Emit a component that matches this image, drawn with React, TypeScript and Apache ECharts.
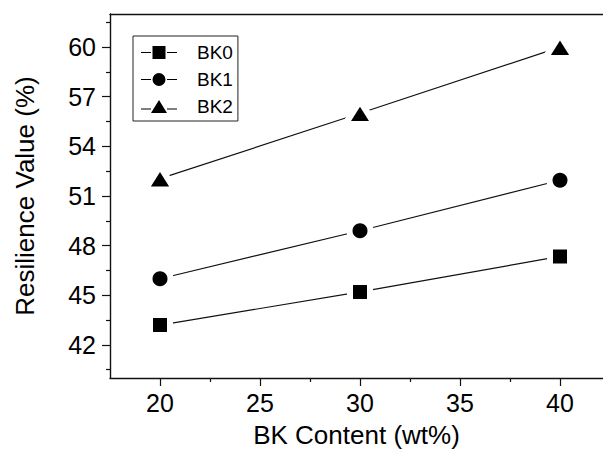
import React, { useEffect, useRef } from "react";
import * as echarts from "echarts";

const xCategories = [20, 30, 40];
const bk0 = [43.2, 45.2, 47.35];
const bk1 = [46.0, 48.9, 51.95];
const bk2 = [52.05, 56.0, 60.0];
const seriesNames = ["BK0", "BK1", "BK2"];
const xTickLabels = [20, 25, 30, 35, 40];
const xMinorTicks = [22.5, 27.5, 32.5, 37.5];
const yTickLabels = [42, 45, 48, 51, 54, 57, 60];
const yMinorTicks = [40.5, 43.5, 46.5, 49.5, 52.5, 55.5, 58.5, 61.5];

const FONT = "Liberation Sans";
const INK = "#111";

const legendIcons: Record<string, string> = {
  BK0: "path://M0,5.9h10v1.2h-10z M11.5,0h13v13h-13z M26,5.9h10v1.2h-10z",
  BK1: "path://M0,5.9h10v1.2h-10z M11.5,6.5a6.5,6.5 0 1,0 13,0a6.5,6.5 0 1,0 -13,0z M26,5.9h10v1.2h-10z",
  BK2: "path://M0,8.4h10v1.2h-10z M18,0L26,13L10,13z M26,8.4h10v1.2h-10z",
};

export default function App() {
  const ref = useRef<HTMLDivElement>(null);
  useEffect(() => {
    if (!ref.current) return;
    const chart = echarts.init(ref.current, undefined, { renderer: "svg" });
    const mk = (vals: number[]) => xCategories.map((x, i) => [x, vals[i]]);
    const common = {
      type: "line" as const,
      xAxisIndex: 0,
      yAxisIndex: 0,
      itemStyle: { color: "#000", borderColor: "#fff", borderWidth: 6 },
      lineStyle: { color: INK, width: 1.2 },
      z: 3,
    };
    const xRange = { min: 17.5, max: 42.15 };
    chart.setOption({
      animation: false,
      backgroundColor: "#fff",
      textStyle: { fontFamily: FONT },
      grid: { left: 110, top: 14, right: 0, bottom: 73, show: false },
      legend: {
        orient: "vertical",
        left: 133,
        top: 36,
        padding: [7, 5, 5, 8],
        itemWidth: 36,
        itemHeight: 13,
        itemGap: 8,
        borderColor: "#222",
        borderWidth: 1,
        textStyle: { fontFamily: FONT, fontSize: 19, color: "#000", padding: [0, 0, 0, 15] },
        data: seriesNames.map((n) => ({
          name: n,
          icon: legendIcons[n],
          itemStyle: { color: "#000", borderWidth: 0 },
        })),
      },
      xAxis: [
        {
          type: "value",
          ...xRange,
          position: "bottom",
          name: "BK Content (wt%)",
          nameLocation: "middle",
          nameGap: 44,
          nameTextStyle: { fontFamily: FONT, fontSize: 26, color: "#000" },
          axisLine: { show: true, lineStyle: { color: INK, width: 1.4 } },
          axisTick: { show: true, length: 8, customValues: xTickLabels, lineStyle: { color: INK, width: 1.2 } },
          axisLabel: { customValues: xTickLabels, fontFamily: FONT, fontSize: 25, color: "#000", margin: 12 },
          splitLine: { show: false },
        },
        {
          type: "value",
          ...xRange,
          position: "bottom",
          axisLine: { show: false },
          axisTick: { show: true, length: 4, customValues: xMinorTicks, lineStyle: { color: INK, width: 1.2 } },
          axisLabel: { show: false },
          splitLine: { show: false },
        },
        {
          type: "value",
          ...xRange,
          position: "top",
          axisLine: { show: true, lineStyle: { color: INK, width: 1.4 } },
          axisTick: { show: false },
          axisLabel: { show: false },
          splitLine: { show: false },
        },
      ],
      yAxis: [
        {
          type: "value",
          min: 40,
          max: 62,
          position: "left",
          name: "Resilience Value (%)",
          nameLocation: "middle",
          nameGap: 72,
          nameTextStyle: { fontFamily: FONT, fontSize: 26, color: "#000" },
          axisLine: { show: true, lineStyle: { color: INK, width: 1.4 } },
          axisTick: { show: true, length: 8, customValues: yTickLabels, lineStyle: { color: INK, width: 1.2 } },
          axisLabel: { customValues: yTickLabels, fontFamily: FONT, fontSize: 25, color: "#000", margin: 14 },
          splitLine: { show: false },
        },
        {
          type: "value",
          min: 40,
          max: 62,
          position: "left",
          axisLine: { show: false },
          axisTick: { show: true, length: 4, customValues: yMinorTicks, lineStyle: { color: INK, width: 1.2 } },
          axisLabel: { show: false },
          splitLine: { show: false },
        },
      ],
      series: [
        { ...common, name: seriesNames[0], symbol: "rect", symbolSize: 20, data: mk(bk0) },
        { ...common, name: seriesNames[1], symbol: "circle", symbolSize: 21, data: mk(bk1) },
        {
          ...common,
          name: seriesNames[2],
          symbol: "triangle",
          symbolSize: [29, 23],
          symbolOffset: [0, -1],
          data: mk(bk2),
        },
      ],
    });
    return () => chart.dispose();
  }, []);
  return <div ref={ref} style={{ position: "absolute", left: 0, top: 0, width: 603, height: 453 }} />;
}
